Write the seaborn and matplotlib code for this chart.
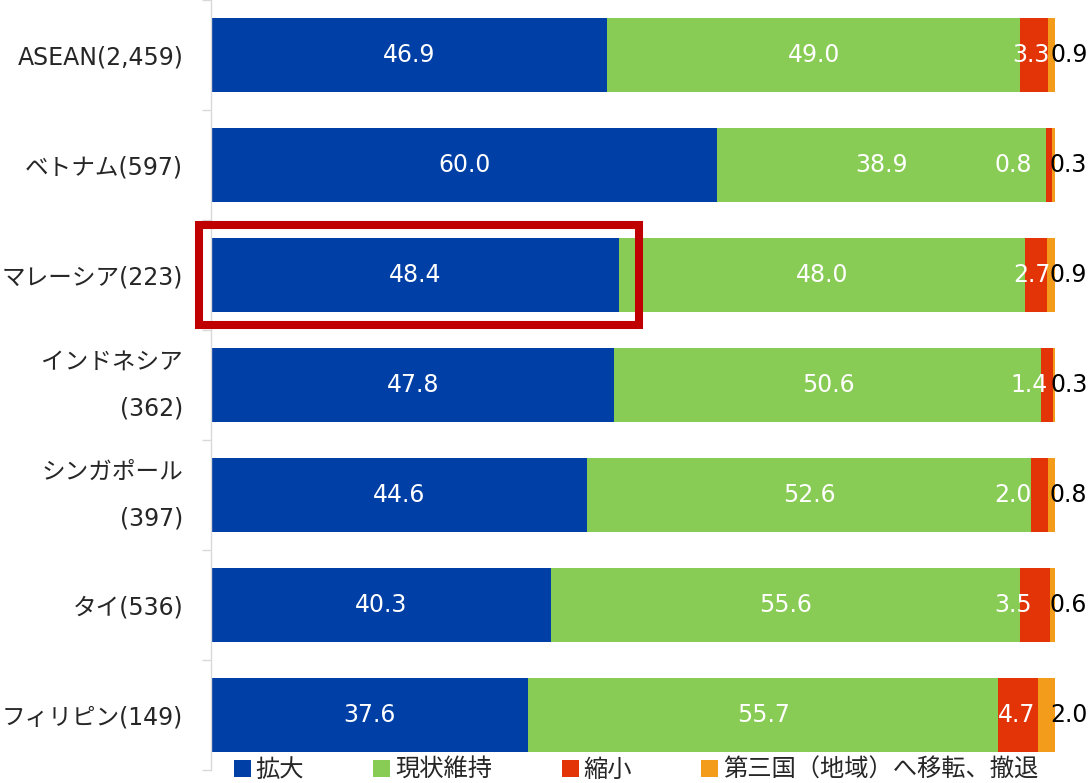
import numpy as np
import pandas as pd
import seaborn as sns
import matplotlib.pyplot as plt
from matplotlib.patches import Patch, Rectangle

# 国・地域別の今後1～2年の事業展開の方向性（%）
countries = ["ASEAN(2,459)", "ベトナム(597)", "マレーシア(223)", "インドネシア\n(362)",
             "シンガポール\n(397)", "タイ(536)", "フィリピン(149)"]
series = ["拡大", "現状維持", "縮小", "第三国（地域）へ移転、撤退"]
expand = [46.9, 60.0, 48.4, 47.8, 44.6, 40.3, 37.6]
keep = [49.0, 38.9, 48.0, 50.6, 52.6, 55.6, 55.7]
shrink = [3.3, 0.8, 2.7, 1.4, 2.0, 3.5, 4.7]
move = [0.9, 0.3, 0.9, 0.3, 0.8, 0.6, 2.0]

colors = ["#003fa6", "#88cc55", "#e23407", "#f39b1b"]
# 縮小ラベルの左右ずらし（見やすさのため）
shrink_nudge = [-0.35, -4.3, -0.45, -2.2, -3.2, -2.65, -0.15]

sns.set_theme(style="white")
plt.rcParams["font.family"] = ["Noto Sans CJK JP", "DejaVu Sans"]
lab_font = ["DejaVu Sans", "Noto Sans CJK JP"]

df = pd.DataFrame({"country": countries, series[0]: expand, series[1]: keep,
                   series[2]: shrink, series[3]: move})

fig = plt.figure(figsize=(10.9, 7.83), dpi=100)
ax = fig.add_axes([211 / 1090, 13 / 783, 844 / 1090, 770 / 783])

left = np.zeros(len(df))
for s, c in zip(series, colors):
    sns.barplot(data=df, x=s, y="country", left=left, color=c, orient="h",
                width=0.67, linewidth=0, saturation=1, ax=ax)
    vals = df[s].to_numpy()
    for i, v in enumerate(vals):
        if s in series[:2]:
            ax.text(left[i] + v / 2, i, f"{v:.1f}", color="white", ha="center",
                    va="center", fontsize=17, family="DejaVu Sans")
        elif s == series[2]:
            ax.text(left[i] + v / 2 + shrink_nudge[i], i, f"{v:.1f}", color="white",
                    ha="center", va="center", fontsize=17, family="DejaVu Sans")
        else:
            ax.text(left[i] + v - 0.6, i, f"{v:.1f}", color="black", ha="left",
                    va="center", fontsize=17, family="DejaVu Sans")
    left = left + vals

ax.set_xlim(0, 100)
ax.set_ylim(6.5, -0.5)
ax.set_xlabel("")
ax.set_ylabel("")
ax.xaxis.set_visible(False)
for side in ["top", "right", "bottom"]:
    ax.spines[side].set_visible(False)
ax.spines["left"].set_color("#d9d9d9")
ax.spines["left"].set_linewidth(1)
ax.set_yticks(range(len(countries)))
ax.set_yticklabels(countries, fontsize=17, linespacing=2.2, family=lab_font)
for t in ax.get_yticklabels():
    if "\n" in t.get_text():
        t.set_verticalalignment("center")
ax.set_yticks(np.arange(-0.5, len(countries)), minor=True)
ax.tick_params(axis="y", which="major", length=0, pad=20)
ax.tick_params(axis="y", which="minor", length=6.5, color="#d9d9d9", width=1, left=True)

# マレーシアの「拡大」を強調
i = 2
ax.add_patch(Rectangle((-1.4, i - 0.455), expand[i] + 1.4 + 2.3, 0.91, fill=False,
                       edgecolor="#c00000", linewidth=5.8, clip_on=False, zorder=5))

handles = [Patch(facecolor=c, edgecolor="none") for c in colors]
fig.legend(handles, series, loc="center", bbox_to_anchor=(636 / 1090, 1 - 770 / 783),
           ncol=4, frameon=False, fontsize=17.5, handlelength=0.7, handleheight=0.7,
           handletextpad=0.2, columnspacing=2.85, borderpad=0, borderaxespad=0)

fig.savefig("out.png", dpi=100)
